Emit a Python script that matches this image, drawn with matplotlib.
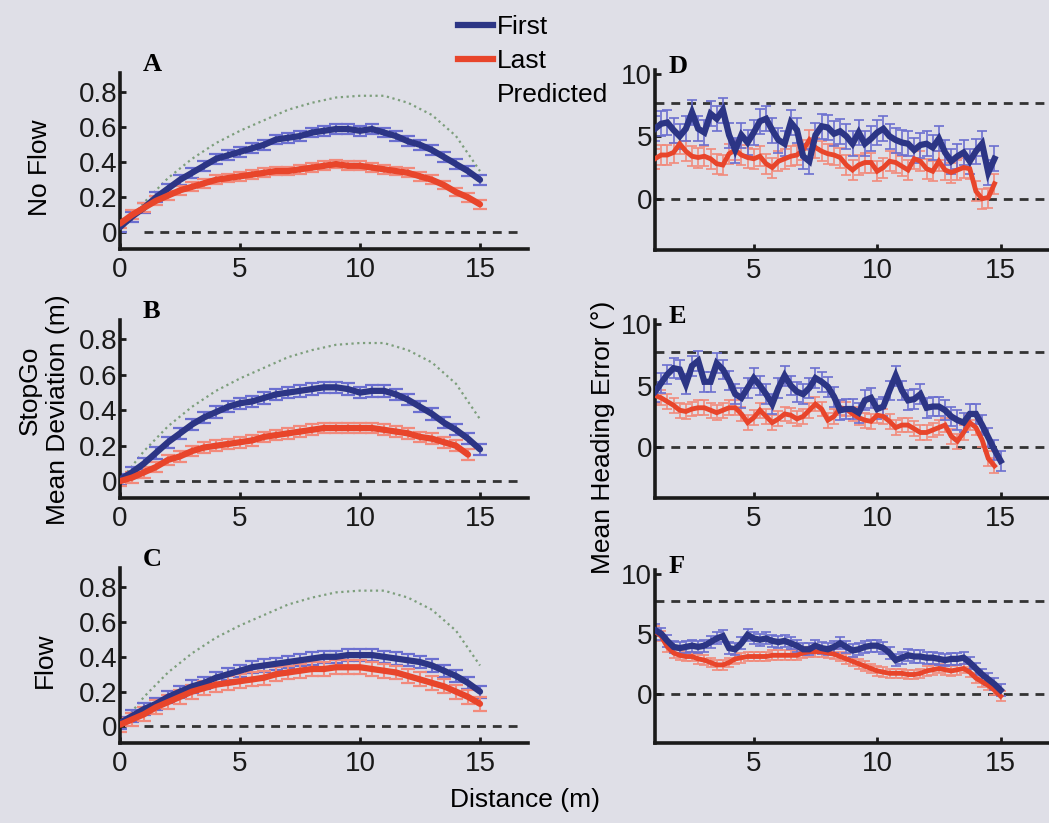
import numpy as np
import matplotlib
matplotlib.use('Agg')
import matplotlib.pyplot as plt
from matplotlib.lines import Line2D

plt.rcParams['font.family'] = ['Liberation Sans', 'DejaVu Sans']

# distance along the path (m)
dist_l = np.arange(0, 15.01, 0.5)
dist_r = np.arange(1, 15.01, 0.25)
dist_pred = np.arange(0, 16, 1)

# predicted deviation for the straight-line walk
predicted = [0, 0.17, 0.31, 0.42, 0.51, 0.58, 0.64, 0.70, 0.74, 0.77, 0.78, 0.78, 0.74, 0.67, 0.55, 0.35]

# mean deviation (m), first and last trials
dev_noflow_first = [0.03, 0.09, 0.14, 0.20, 0.25, 0.30, 0.34, 0.38, 0.42, 0.44, 0.46, 0.48, 0.50, 0.53, 0.54, 0.55,
                    0.57, 0.58, 0.59, 0.59, 0.58, 0.59, 0.57, 0.55, 0.52, 0.50, 0.47, 0.43, 0.39, 0.35, 0.30]
dev_noflow_last = [0.05, 0.10, 0.14, 0.18, 0.21, 0.24, 0.26, 0.28, 0.30, 0.31, 0.32, 0.33, 0.34, 0.35, 0.35, 0.36,
                   0.37, 0.38, 0.39, 0.38, 0.38, 0.37, 0.36, 0.35, 0.34, 0.32, 0.30, 0.27, 0.23, 0.20, 0.16]
dev_stopgo_first = [0.01, 0.05, 0.10, 0.16, 0.22, 0.27, 0.32, 0.36, 0.39, 0.42, 0.44, 0.45, 0.47, 0.49, 0.50, 0.51,
                    0.52, 0.53, 0.53, 0.52, 0.50, 0.51, 0.51, 0.49, 0.46, 0.42, 0.38, 0.33, 0.29, 0.24, 0.18]
dev_stopgo_last = [0.00, 0.02, 0.05, 0.08, 0.12, 0.14, 0.17, 0.19, 0.20, 0.21, 0.22, 0.23, 0.25, 0.26, 0.27, 0.28,
                   0.29, 0.30, 0.30, 0.30, 0.30, 0.30, 0.29, 0.28, 0.27, 0.25, 0.24, 0.22, 0.20, 0.15]
dev_flow_first = [0.02, 0.06, 0.10, 0.13, 0.17, 0.20, 0.23, 0.25, 0.28, 0.30, 0.32, 0.34, 0.35, 0.36, 0.37, 0.38,
                  0.39, 0.40, 0.40, 0.41, 0.41, 0.41, 0.40, 0.39, 0.38, 0.37, 0.35, 0.32, 0.29, 0.25, 0.20]
dev_flow_last = [0.01, 0.04, 0.07, 0.11, 0.14, 0.17, 0.20, 0.22, 0.24, 0.25, 0.26, 0.27, 0.28, 0.30, 0.31, 0.32,
                 0.33, 0.33, 0.34, 0.34, 0.34, 0.33, 0.32, 0.31, 0.29, 0.27, 0.25, 0.23, 0.20, 0.17, 0.13]
dev_err = {'noflow': (0.028, 0.025), 'stopgo': (0.032, 0.03), 'flow': (0.035, 0.04)}

# mean heading error (deg), first and last trials
head_noflow_first = [5.6, 6.0, 6.1, 5.5, 5.0, 5.6, 6.9, 5.6, 5.3, 6.8, 6.4, 7.1, 5.1, 3.9, 5.1, 4.5,
                     5.3, 6.2, 6.4, 5.5, 4.7, 4.4, 6.1, 5.5, 3.4, 3.0, 5.1, 5.8, 5.7, 5.2, 5.4, 5.0,
                     4.4, 5.3, 4.4, 4.8, 5.3, 5.6, 5.0, 4.7, 4.5, 4.4, 3.9, 4.3, 4.4, 4.1, 4.8, 3.7,
                     3.0, 3.4, 3.7, 3.0, 3.8, 4.4, 2.1, 3.2]
head_noflow_last = [3.2, 3.5, 3.5, 3.7, 4.4, 3.8, 3.4, 3.3, 3.4, 3.2, 2.8, 2.7, 3.6, 3.9, 3.5, 3.3,
                    3.2, 3.4, 2.8, 2.5, 3.0, 3.2, 3.4, 3.5, 3.9, 4.7, 4.1, 3.8, 3.6, 3.5, 3.3, 2.7,
                    2.3, 2.7, 2.9, 2.9, 2.2, 2.5, 3.0, 2.9, 2.6, 2.3, 3.2, 3.0, 2.4, 2.2, 3.0, 2.3,
                    2.1, 2.3, 2.5, 2.4, 0.6, 0.0, 0.1, 1.2]
head_stopgo_first = [4.5, 5.2, 5.9, 6.4, 6.3, 5.1, 6.6, 7.0, 5.3, 5.3, 6.8, 6.3, 5.4, 4.3, 4.0, 4.8,
                     5.6, 5.0, 4.3, 3.5, 4.8, 5.8, 5.0, 4.5, 4.3, 4.8, 5.6, 5.3, 4.9, 4.1, 3.0, 3.1,
                     3.1, 2.8, 3.8, 4.0, 3.1, 3.3, 4.6, 5.8, 4.6, 3.8, 3.9, 4.3, 3.2, 3.3, 3.3, 3.0,
                     2.5, 2.2, 2.0, 2.7, 2.7, 1.8, 0.8, -0.2, -1.1]
head_stopgo_last = [4.2, 4.0, 3.7, 3.4, 3.0, 2.9, 3.1, 3.2, 3.2, 3.0, 2.8, 3.0, 3.2, 3.2, 2.7, 2.0,
                    2.4, 3.0, 2.5, 2.0, 2.3, 2.7, 2.6, 2.3, 2.5, 3.0, 3.5, 3.1, 2.2, 2.5, 3.2, 3.1,
                    2.7, 2.4, 2.2, 2.1, 2.6, 2.5, 2.1, 1.6, 1.8, 1.8, 1.5, 1.2, 1.2, 1.4, 1.6, 1.8,
                    0.9, 0.5, 1.2, 2.0, 1.6, 0.6, -0.9, -1.5]
head_flow_first = [5.3, 5.0, 4.4, 3.9, 3.8, 3.9, 4.0, 3.9, 4.0, 4.3, 4.6, 4.8, 3.8, 3.7, 4.2, 4.9,
                   4.6, 4.5, 4.6, 4.4, 4.3, 4.4, 4.2, 4.0, 3.7, 3.7, 4.0, 3.8, 3.7, 3.9, 4.2, 3.9,
                   3.6, 3.7, 3.9, 4.0, 4.0, 3.8, 3.4, 2.8, 3.0, 3.2, 3.1, 3.1, 3.0, 3.0, 2.9, 2.8,
                   2.9, 2.9, 3.0, 2.6, 2.1, 1.6, 1.2, 0.8, 0.3]
head_flow_last = [5.2, 4.8, 3.9, 3.4, 3.2, 3.1, 3.1, 2.9, 2.8, 2.6, 2.4, 2.4, 2.6, 2.9, 3.0, 3.1,
                  3.1, 3.1, 3.1, 3.2, 3.2, 3.2, 3.2, 3.2, 3.4, 3.5, 3.5, 3.5, 3.4, 3.3, 3.1, 2.9,
                  2.7, 2.5, 2.3, 2.1, 1.9, 1.8, 1.7, 1.7, 1.7, 1.6, 1.6, 1.7, 1.9, 2.0, 2.1, 2.0,
                  1.9, 2.0, 2.1, 1.8, 1.3, 1.0, 0.7, 0.3, -0.2]
head_err = {'noflow': (1.0, 0.8), 'stopgo': (0.8, 0.6), 'flow': (0.5, 0.4)}

BLUE, BLUE_LT = '#2c3585', '#6b6fd0'
RED, RED_LT = '#e8452b', '#f28a7c'
PRED = '#7d9e7c'
BG = '#dfdfe7'

W, H = 1049, 823
fig = plt.figure(figsize=(W / 100, H / 100), dpi=100, facecolor=BG)


def box(x0, x1, y0, y1):
    # pixel box -> figure fraction
    return [x0 / W, 1 - y1 / H, (x1 - x0) / W, (y1 - y0) / H]


def style(ax):
    ax.set_facecolor('none')
    for s in ('top', 'right'):
        ax.spines[s].set_visible(False)
    for s in ('left', 'bottom'):
        ax.spines[s].set_linewidth(2.6)
        ax.spines[s].set_color('#1a1a1a')
    ax.tick_params(direction='in', length=4, width=2, labelsize=20, colors='#1a1a1a', pad=2)
    ax.tick_params(axis='x', pad=6)


left_boxes = [box(120, 528, 73, 249), box(120, 528, 320, 498), box(120, 528, 568, 743)]
right_boxes = [box(655, 1050, 70, 250), box(655, 1050, 320, 498), box(655, 1050, 570, 743)]

dev_series = [('noflow', dev_noflow_first, dev_noflow_last),
              ('stopgo', dev_stopgo_first, dev_stopgo_last),
              ('flow', dev_flow_first, dev_flow_last)]
head_series = [('noflow', head_noflow_first, head_noflow_last),
               ('stopgo', head_stopgo_first, head_stopgo_last),
               ('flow', head_flow_first, head_flow_last)]

dash = (0, (3.2, 2.5))

for rect, (key, first, last), letter in zip(left_boxes, dev_series, 'ABC'):
    ax = fig.add_axes(rect)
    style(ax)
    ax.hlines(0, 1, 16.7, colors='#333333', lw=2, linestyle=dash, zorder=1)
    ax.plot(dist_pred, predicted, color=PRED, lw=1.6, linestyle=(0, (1, 1.6)), zorder=1)
    e_first, e_last = dev_err[key]
    for vals, err, c, clt in ((first, e_first, BLUE, BLUE_LT), (last, e_last, RED, RED_LT)):
        xs = dist_l[:len(vals)]
        ax.errorbar(xs, vals, yerr=err, fmt='none', ecolor=clt, elinewidth=1.5,
                    capsize=5, capthick=1.6, zorder=2)
        ax.plot(xs, vals, color=c, lw=4.5, solid_capstyle='round', zorder=3)
    ax.set_xlim(0, 17)
    ax.set_ylim(-0.095, 0.91)
    ax.set_xticks([0, 5, 10, 15])
    ax.set_yticks([0, 0.2, 0.4, 0.6, 0.8])
    ax.set_yticklabels(['0', '0.2', '0.4', '0.6', '0.8'])
    ax.text(0.055, 1.05, letter, transform=ax.transAxes, fontsize=19, fontweight='bold',
            family='Liberation Serif', va='center', ha='left')

for rect, (key, first, last), letter in zip(right_boxes, head_series, 'DEF'):
    ax = fig.add_axes(rect)
    style(ax)
    ax.hlines([0, 7.7], 1, 17, colors='#333333', lw=2, linestyle=dash, zorder=1)
    e_first, e_last = head_err[key]
    for vals, err, c, clt, lw in ((last, e_last, RED, RED_LT, 3.5), (first, e_first, BLUE, BLUE_LT, 4.5)):
        xs = dist_r[:len(vals)]
        ax.errorbar(xs, vals, yerr=err, fmt='none', ecolor=clt, elinewidth=1.2,
                    capsize=3.5, capthick=1.2, zorder=2)
        ax.plot(xs, vals, color=c, lw=lw, solid_joinstyle='miter', zorder=3)
    ax.set_xlim(1, 17)
    ax.set_ylim(-4.1, 10.3)
    ax.set_xticks([5, 10, 15])
    ax.set_yticks([0, 5, 10])
    ax.text(0.035, 1.02, letter, transform=ax.transAxes, fontsize=19, fontweight='bold',
            family='Liberation Serif', va='center', ha='left')

# row and axis labels
fig.text(40 / W, 1 - 168 / H, 'No Flow', rotation=90, fontsize=19, ha='center', va='center')
fig.text(30 / W, 1 - 390 / H, 'StopGo', rotation=90, fontsize=19, ha='center', va='center')
fig.text(58 / W, 1 - 410 / H, 'Mean Deviation (m)', rotation=90, fontsize=19, ha='center', va='center')
fig.text(45 / W, 1 - 660 / H, 'Flow', rotation=90, fontsize=19, ha='center', va='center')
fig.text(603 / W, 1 - 437 / H, 'Mean Heading Error (°)', rotation=90, fontsize=19, ha='center', va='center')
fig.text(525 / W, 1 - 800 / H, 'Distance (m)', fontsize=19, ha='center', va='center')

handles = [Line2D([], [], color=BLUE, lw=4.5),
           Line2D([], [], color=RED, lw=4.5),
           Line2D([], [], linestyle='none')]
fig.legend(handles, ['First', 'Last', 'Predicted'], loc='upper left',
           bbox_to_anchor=(445 / W, 1 - 2 / H), frameon=False, fontsize=19,
           handlelength=1.3, handletextpad=0.15, labelspacing=0.38, borderpad=0)

fig.savefig('out.png', dpi=100, facecolor=BG)
